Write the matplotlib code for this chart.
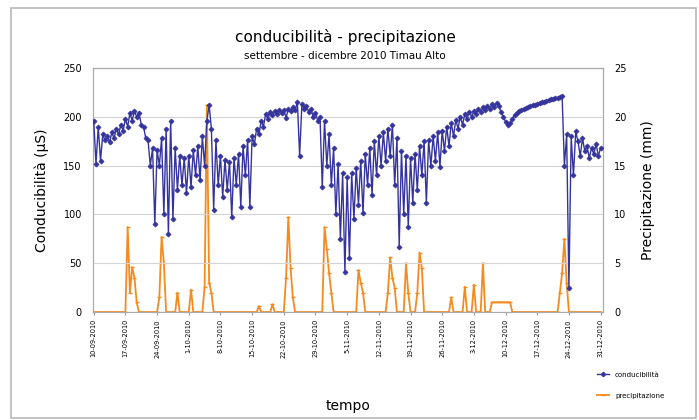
import matplotlib
matplotlib.use('Agg')
from matplotlib import pyplot as plt
from matplotlib.patches import Rectangle
import pandas as pd

# conducibilita' (uS), one value every 12 hours from 10-09-2010
conducibilita = [
    196, 152, 190, 155, 182, 176, 180, 174, 184, 178, 188, 182, 192, 186,
    198, 190, 204, 196, 206, 200, 204, 192, 190, 178, 176, 150, 168, 90,
    166, 150, 178, 100, 188, 80, 196, 95, 168, 125, 160, 130, 158, 122,
    160, 128, 166, 140, 170, 135, 180, 150, 196, 212, 188, 105, 176, 130,
    160, 118, 156, 125, 154, 97, 158, 130, 162, 108, 170, 140, 176, 108,
    180, 172, 188, 182, 196, 190, 203, 198, 205, 202, 206, 203, 207, 204,
    207, 199, 208, 206, 210, 207, 215, 160, 213, 208, 211, 205, 208, 200,
    204, 196, 200, 128, 196, 150, 182, 130, 168, 100, 152, 75, 142, 41,
    138, 55, 142, 95, 148, 110, 155, 101, 162, 130, 168, 120, 175, 140,
    180, 150, 184, 155, 188, 160, 192, 130, 178, 67, 165, 100, 160, 87,
    158, 112, 162, 125, 170, 140, 175, 112, 176, 150, 180, 155, 184, 149,
    186, 165, 190, 170, 194, 180, 197, 188, 200, 192, 203, 198, 205, 200,
    206, 203, 208, 205, 210, 207, 211, 208, 213, 210, 214, 211, 205, 200,
    195, 192, 194, 198, 202, 204, 206, 207, 208, 209, 210, 211, 212, 212,
    213, 214, 215, 215, 216, 217, 218, 218, 219, 219, 220, 221, 150, 182,
    25, 180, 140, 185, 175, 160, 178, 165, 170, 158, 168, 162, 172, 160, 168,
]

# precipitazione (mm), same time steps
precipitazione = [
    0, 0, 0, 0, 0, 0, 0, 0, 0, 0, 0, 0, 0, 0,
    0, 8.7, 2, 4.6, 3.5, 1, 0, 0, 0, 0, 0, 0, 0, 0,
    0, 1.5, 7.7, 5.0, 0, 0, 0, 0, 0, 2.0, 0, 0, 0, 0,
    0, 2.3, 0, 0, 0, 0, 0, 2.6, 21.2, 3.0, 2.0, 0, 0, 0,
    0, 0, 0, 0, 0, 0, 0, 0, 0, 0, 0, 0, 0, 0,
    0, 0, 0, 0.6, 0, 0, 0, 0, 0, 0.8, 0, 0, 0, 0,
    0, 3.5, 9.7, 4.5, 1.5, 0, 0, 0, 0, 0, 0, 0, 0, 0,
    0, 0, 0, 0, 8.7, 6.5, 4.0, 2.0, 0, 0, 0, 0, 0, 0,
    0, 0, 0, 0, 0, 4.3, 3.0, 2.0, 0, 0, 0, 0, 0, 0,
    0, 0, 0, 0, 2.0, 5.6, 3.5, 2.5, 0, 0, 0, 0, 5.0, 2.0,
    0, 0, 0, 2.0, 6.1, 4.5, 0, 0, 0, 0, 0, 0, 0, 0,
    0, 0, 0, 0, 1.5, 0, 0, 0, 0, 0, 2.6, 0, 0, 0,
    2.8, 0, 0, 0, 5.0, 0, 0, 0, 1.0, 1.0, 1.0, 1.0, 1.0, 1.0,
    1.0, 1.0, 1.0, 0, 0, 0, 0, 0, 0, 0, 0, 0, 0, 0,
    0, 0, 0, 0, 0, 0, 0, 0, 0, 0, 2.0, 4.0, 7.5, 3.0,
    0, 0, 0, 0, 0, 0, 0, 0, 0, 0, 0, 0, 0, 0, 0,
]

tick_labels = ['10-09-2010', '17-09-2010', '24-09-2010', '1-10-2010', '8-10-2010',
               '15-10-2010', '22-10-2010', '29-10-2010', '5-11-2010', '12-11-2010',
               '19-11-2010', '26-11-2010', '3-12-2010', '10-12-2010', '17-12-2010',
               '24-12-2010', '31-12-2010']

tempo = pd.date_range('2010-09-10', periods=len(conducibilita), freq='12h')
ticks = pd.date_range('2010-09-10', periods=len(tick_labels), freq='7D')

blue = '#34349c'
orange = '#f58a1f'

fig = plt.figure(figsize=(6.99, 4.2), dpi=100)
fig.patch.set_facecolor('white')
# outer chart frame
fig.patches.append(Rectangle((0.016, 0.004), 0.98, 0.978, transform=fig.transFigure,
                             fill=False, edgecolor='#b8b8b8', linewidth=1.2))

ax = fig.add_axes([0.133, 0.257, 0.730, 0.581])
ax2 = ax.twinx()

l1, = ax.plot(tempo, conducibilita, color=blue, linewidth=1.0, marker='D',
              markersize=2.6, markeredgewidth=0.5, label='conducibilità', zorder=3)
l2, = ax2.plot(tempo, precipitazione, color=orange, linewidth=1.3, marker='_',
               markersize=3.5, markeredgewidth=1.0, label='precipitazione', zorder=2)
ax.set_zorder(ax2.get_zorder() + 1)
ax.patch.set_visible(False)

ax.set_ylim(0, 250)
ax2.set_ylim(0, 25)
ax.set_yticks([0, 50, 100, 150, 200, 250])
ax2.set_yticks([0, 5, 10, 15, 20, 25])
ax.set_xlim(tempo[0] - pd.Timedelta(hours=4), tempo[-1] + pd.Timedelta(hours=14))
ax.set_xticks(ticks)
ax.set_xticklabels(tick_labels, rotation=90, fontsize=4.8)
ax.grid(axis='y', color='#d4d4d4', linewidth=0.8)
ax.tick_params(axis='y', labelsize=7, length=0, pad=8)
ax2.tick_params(axis='y', labelsize=7, length=0, pad=8)
ax.tick_params(axis='x', length=2, color='#999999', pad=3)
for a in (ax, ax2):
    for s in a.spines.values():
        s.set_color('#aaaaaa')
        s.set_linewidth(0.8)

ax.set_ylabel('Conducibilità (µS)', fontsize=10, labelpad=10)
ax2.set_ylabel('Precipitazione (mm)', fontsize=10, labelpad=10)
ax.set_xlabel('tempo', fontsize=10, labelpad=30)

fig.text(0.494, 0.900, 'conducibilità - precipitazione', ha='center', fontsize=11)
fig.text(0.494, 0.860, 'settembre - dicembre 2010 Timau Alto', ha='center', fontsize=7.5)

fig.legend(handles=[l1, l2], loc='upper left', bbox_to_anchor=(0.845, 0.13),
           frameon=False, fontsize=5, handlelength=1.8, labelspacing=2.2)

plt.savefig('out.png', dpi=100)
